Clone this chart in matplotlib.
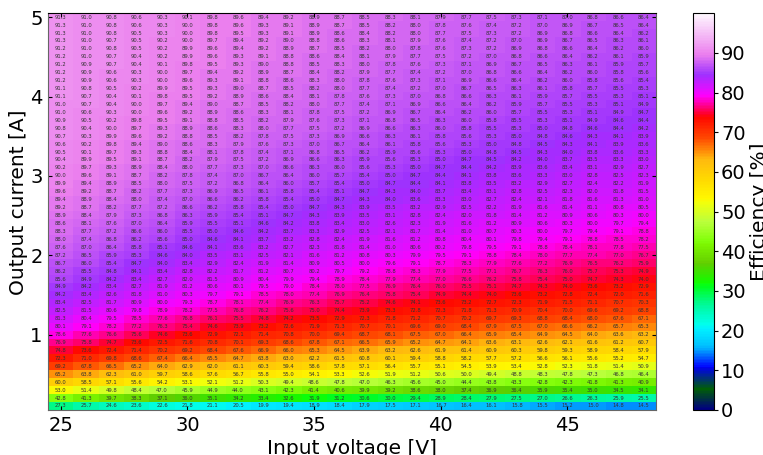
import numpy as np
import matplotlib
matplotlib.use('Agg')
import matplotlib.pyplot as plt

voltages = list(range(25, 49))
currents = [round(0.1 * i, 1) for i in range(50, 0, -1)]

# rows go from 5.0 A down to 0.1 A, columns 25 V to 48 V
efficiency = [
    [91.3, 91.0, 90.8, 90.6, 90.3, 90.1, 89.8, 89.6, 89.4, 89.2, 88.9, 88.7, 88.5, 88.3, 88.1, 87.9, 87.7, 87.5, 87.3, 87.1, 87.0, 86.8, 86.6, 86.4],
    [91.3, 91.0, 90.8, 90.6, 90.3, 90.0, 89.8, 89.6, 89.3, 89.1, 88.9, 88.7, 88.5, 88.2, 88.0, 87.8, 87.6, 87.4, 87.2, 87.0, 86.9, 86.7, 86.5, 86.4],
    [91.3, 91.0, 90.8, 90.5, 90.3, 90.0, 89.8, 89.5, 89.3, 89.1, 88.9, 88.6, 88.4, 88.2, 88.0, 87.7, 87.5, 87.3, 87.2, 86.9, 86.8, 86.6, 86.4, 86.2],
    [91.3, 91.0, 90.7, 90.5, 90.2, 90.0, 89.7, 89.4, 89.2, 89.0, 88.8, 88.6, 88.3, 88.1, 87.9, 87.6, 87.4, 87.2, 87.0, 86.9, 86.7, 86.5, 86.3, 86.1],
    [91.2, 91.0, 90.8, 90.5, 90.2, 89.9, 89.6, 89.4, 89.2, 88.9, 88.7, 88.5, 88.2, 88.0, 87.8, 87.6, 87.3, 87.2, 86.9, 86.8, 86.6, 86.4, 86.2, 86.0],
    [91.2, 91.0, 90.7, 90.4, 90.2, 89.9, 89.6, 89.3, 89.1, 88.8, 88.6, 88.4, 88.1, 87.9, 87.7, 87.5, 87.2, 87.0, 86.8, 86.6, 86.4, 86.2, 86.1, 85.9],
    [91.2, 90.9, 90.7, 90.4, 90.1, 89.8, 89.5, 89.3, 89.0, 88.8, 88.5, 88.3, 88.0, 87.8, 87.6, 87.3, 87.1, 86.9, 86.7, 86.5, 86.3, 86.1, 85.9, 85.7],
    [91.2, 90.9, 90.6, 90.3, 90.0, 89.7, 89.4, 89.2, 88.9, 88.7, 88.4, 88.2, 87.9, 87.7, 87.4, 87.2, 87.0, 86.8, 86.6, 86.4, 86.2, 86.0, 85.8, 85.6],
    [91.2, 90.9, 90.6, 90.3, 90.0, 89.6, 89.3, 89.1, 88.8, 88.6, 88.3, 88.0, 87.8, 87.6, 87.3, 87.1, 86.9, 86.6, 86.4, 86.2, 86.0, 85.8, 85.6, 85.4],
    [91.1, 90.8, 90.5, 90.2, 89.9, 89.5, 89.3, 89.0, 88.7, 88.5, 88.2, 88.0, 87.7, 87.4, 87.2, 87.0, 86.7, 86.5, 86.3, 86.1, 85.8, 85.7, 85.5, 85.3],
    [91.1, 90.7, 90.4, 90.1, 89.8, 89.5, 89.2, 88.9, 88.6, 88.4, 88.1, 87.8, 87.6, 87.3, 87.0, 86.8, 86.6, 86.3, 86.1, 85.9, 85.7, 85.5, 85.3, 85.1],
    [91.0, 90.7, 90.4, 90.0, 89.7, 89.4, 89.0, 88.7, 88.5, 88.2, 88.0, 87.7, 87.4, 87.1, 86.9, 86.6, 86.4, 86.2, 85.9, 85.7, 85.5, 85.3, 85.1, 84.9],
    [91.0, 90.6, 90.3, 90.0, 89.6, 89.2, 88.9, 88.6, 88.3, 88.1, 87.8, 87.5, 87.2, 86.9, 86.7, 86.4, 86.2, 86.0, 85.7, 85.5, 85.3, 85.1, 84.9, 84.7],
    [90.9, 90.5, 90.2, 89.8, 89.5, 89.1, 88.8, 88.5, 88.2, 87.9, 87.6, 87.3, 87.1, 86.8, 86.5, 86.3, 86.0, 85.8, 85.5, 85.3, 85.1, 84.9, 84.6, 84.4],
    [90.8, 90.4, 90.0, 89.7, 89.3, 88.9, 88.6, 88.3, 88.0, 87.7, 87.5, 87.2, 86.9, 86.6, 86.3, 86.0, 85.8, 85.5, 85.3, 85.0, 84.8, 84.6, 84.4, 84.2],
    [90.7, 90.3, 89.9, 89.6, 89.2, 88.8, 88.5, 88.2, 87.8, 87.5, 87.3, 86.9, 86.6, 86.3, 86.1, 85.8, 85.6, 85.3, 85.0, 84.8, 84.6, 84.3, 84.1, 83.9],
    [90.6, 90.2, 89.8, 89.4, 89.0, 88.6, 88.3, 87.9, 87.6, 87.3, 87.0, 86.7, 86.4, 86.1, 85.8, 85.6, 85.3, 85.0, 84.8, 84.5, 84.3, 84.1, 83.9, 83.6],
    [90.5, 90.1, 89.7, 89.3, 88.8, 88.4, 88.1, 87.8, 87.4, 87.1, 86.8, 86.5, 86.2, 85.9, 85.6, 85.3, 85.0, 84.8, 84.5, 84.3, 84.0, 83.8, 83.6, 83.3],
    [90.4, 89.9, 89.5, 89.1, 88.7, 88.2, 87.9, 87.5, 87.2, 86.9, 86.6, 86.3, 85.9, 85.6, 85.3, 85.0, 84.7, 84.5, 84.2, 84.0, 83.7, 83.5, 83.3, 83.0],
    [90.2, 89.7, 89.3, 88.9, 88.4, 88.0, 87.7, 87.3, 87.0, 86.6, 86.3, 86.0, 85.6, 85.3, 85.0, 84.7, 84.4, 84.2, 83.9, 83.6, 83.4, 83.1, 82.9, 82.7],
    [90.0, 89.6, 89.1, 88.7, 88.2, 87.8, 87.4, 87.0, 86.7, 86.4, 86.0, 85.7, 85.4, 85.0, 84.7, 84.4, 84.1, 83.8, 83.6, 83.3, 83.0, 82.8, 82.5, 82.3],
    [89.9, 89.4, 88.9, 88.5, 88.0, 87.5, 87.2, 86.8, 86.4, 86.0, 85.7, 85.4, 85.0, 84.7, 84.4, 84.1, 83.8, 83.5, 83.2, 82.9, 82.7, 82.4, 82.2, 81.9],
    [89.6, 89.2, 88.7, 88.2, 87.7, 87.3, 86.9, 86.5, 86.1, 85.8, 85.4, 85.1, 84.7, 84.3, 84.0, 83.7, 83.4, 83.1, 82.8, 82.5, 82.3, 82.0, 81.8, 81.5],
    [89.4, 88.9, 88.4, 88.0, 87.4, 87.0, 86.6, 86.2, 85.8, 85.4, 85.0, 84.7, 84.3, 84.0, 83.6, 83.3, 83.0, 82.7, 82.4, 82.1, 81.8, 81.6, 81.3, 81.0],
    [89.2, 88.7, 88.2, 87.7, 87.2, 86.6, 86.2, 85.8, 85.4, 85.0, 84.7, 84.3, 83.9, 83.5, 83.2, 82.9, 82.5, 82.2, 81.9, 81.6, 81.4, 81.1, 80.8, 80.5],
    [88.9, 88.4, 87.9, 87.3, 86.8, 86.3, 85.9, 85.4, 85.1, 84.7, 84.3, 83.9, 83.5, 83.1, 82.8, 82.4, 82.0, 81.8, 81.4, 81.2, 80.9, 80.6, 80.3, 80.0],
    [88.6, 88.1, 87.6, 87.0, 86.4, 85.9, 85.5, 85.1, 84.6, 84.2, 83.8, 83.4, 83.0, 82.6, 82.3, 81.9, 81.6, 81.2, 80.9, 80.6, 80.3, 80.0, 79.7, 79.4],
    [88.3, 87.7, 87.2, 86.6, 86.0, 85.5, 85.0, 84.6, 84.2, 83.7, 83.3, 82.9, 82.5, 82.1, 81.7, 81.4, 81.0, 80.7, 80.3, 80.0, 79.7, 79.4, 79.1, 78.8],
    [88.0, 87.4, 86.8, 86.2, 85.6, 85.0, 84.6, 84.1, 83.7, 83.2, 82.8, 82.4, 81.9, 81.6, 81.2, 80.8, 80.4, 80.1, 79.8, 79.4, 79.1, 78.8, 78.5, 78.2],
    [87.6, 87.0, 86.4, 85.8, 85.1, 84.6, 84.1, 83.6, 83.2, 82.7, 82.3, 81.8, 81.4, 81.0, 80.6, 80.2, 79.8, 79.5, 79.1, 78.8, 78.4, 78.1, 77.8, 77.5],
    [87.2, 86.5, 85.9, 85.3, 84.6, 84.0, 83.5, 83.1, 82.5, 82.1, 81.6, 81.2, 80.8, 80.3, 79.9, 79.5, 79.1, 78.8, 78.4, 78.0, 77.7, 77.4, 77.0, 76.7],
    [86.7, 86.0, 85.4, 84.7, 84.0, 83.4, 82.9, 82.4, 81.9, 81.4, 80.9, 80.5, 80.0, 79.6, 79.1, 78.7, 78.3, 77.9, 77.6, 77.2, 76.9, 76.5, 76.2, 75.9],
    [86.2, 85.5, 84.8, 84.1, 83.4, 82.8, 82.2, 81.7, 81.2, 80.7, 80.2, 79.7, 79.2, 78.8, 78.3, 77.9, 77.5, 77.1, 76.7, 76.3, 76.0, 75.7, 75.3, 74.9],
    [85.6, 84.9, 84.2, 83.4, 82.7, 82.0, 81.5, 80.9, 80.4, 79.9, 79.4, 78.9, 78.4, 77.9, 77.4, 77.0, 76.6, 76.2, 75.8, 75.4, 75.0, 74.7, 74.3, 74.0],
    [84.9, 84.2, 83.4, 82.7, 81.9, 81.2, 80.6, 80.1, 79.5, 79.0, 78.4, 78.0, 77.5, 76.9, 76.4, 76.0, 75.5, 75.1, 74.7, 74.3, 74.0, 73.6, 73.2, 72.9],
    [84.2, 83.4, 82.6, 81.8, 81.0, 80.3, 79.7, 79.1, 78.5, 78.0, 77.4, 76.9, 76.4, 75.8, 75.4, 74.9, 74.4, 74.0, 73.6, 73.2, 72.8, 72.4, 72.0, 71.6],
    [83.4, 82.5, 81.7, 80.9, 80.0, 79.3, 78.7, 78.1, 77.4, 76.9, 76.3, 75.7, 75.2, 74.6, 74.1, 73.6, 73.2, 72.7, 72.3, 71.9, 71.5, 71.1, 70.7, 70.3],
    [82.5, 81.5, 80.6, 79.8, 78.9, 78.2, 77.5, 76.8, 76.2, 75.6, 75.0, 74.4, 73.9, 73.3, 72.8, 72.3, 71.8, 71.3, 70.9, 70.4, 70.0, 69.6, 69.2, 68.8],
    [81.3, 80.4, 79.5, 78.5, 77.6, 76.8, 76.1, 75.5, 74.8, 74.2, 73.5, 72.9, 72.3, 71.8, 71.2, 70.7, 70.2, 69.7, 69.3, 68.8, 68.4, 68.0, 67.6, 67.1],
    [80.1, 79.1, 78.2, 77.2, 76.3, 75.4, 74.6, 73.9, 73.2, 72.6, 71.9, 71.3, 70.7, 70.1, 69.6, 69.0, 68.4, 67.9, 67.5, 67.0, 66.6, 66.2, 65.7, 65.3],
    [78.6, 77.6, 76.6, 75.6, 74.6, 73.6, 72.9, 72.1, 71.4, 70.8, 70.0, 69.4, 68.7, 68.1, 67.5, 67.0, 66.4, 65.9, 65.4, 64.9, 64.5, 64.0, 63.6, 63.2],
    [76.9, 75.8, 74.7, 73.6, 72.5, 71.6, 70.8, 70.1, 69.3, 68.6, 67.8, 67.1, 66.5, 65.9, 65.2, 64.7, 64.1, 63.6, 63.1, 62.6, 62.1, 61.6, 61.2, 60.7],
    [74.8, 73.6, 72.4, 71.4, 70.2, 69.2, 68.4, 67.6, 66.9, 66.0, 65.3, 64.5, 63.9, 63.2, 62.6, 61.9, 61.4, 60.9, 60.3, 59.8, 59.3, 58.9, 58.4, 57.9],
    [72.3, 71.0, 69.8, 68.6, 67.4, 66.4, 65.5, 64.7, 63.8, 63.0, 62.2, 61.5, 60.8, 60.1, 59.4, 58.8, 58.2, 57.7, 57.2, 56.6, 56.1, 55.6, 55.2, 54.7],
    [69.2, 67.8, 66.5, 65.2, 64.0, 62.9, 62.0, 61.1, 60.3, 59.4, 58.6, 57.8, 57.1, 56.4, 55.7, 55.1, 54.5, 53.9, 53.4, 52.8, 52.3, 51.8, 51.4, 50.9],
    [65.2, 63.8, 62.3, 61.0, 59.7, 58.6, 57.6, 56.7, 55.8, 55.0, 54.1, 53.3, 52.6, 51.9, 51.2, 50.6, 50.0, 49.4, 48.8, 48.3, 47.8, 47.3, 46.8, 46.4],
    [60.0, 58.5, 57.1, 55.6, 54.2, 53.1, 52.1, 51.2, 50.3, 49.4, 48.6, 47.8, 47.0, 46.3, 45.6, 45.0, 44.4, 43.8, 43.3, 42.8, 42.3, 41.8, 41.3, 40.9],
    [53.0, 51.4, 49.8, 48.4, 47.0, 45.9, 44.9, 44.0, 43.1, 42.3, 41.4, 40.6, 39.9, 39.2, 38.6, 38.0, 37.4, 36.9, 36.4, 35.9, 35.4, 35.0, 34.5, 34.1],
    [42.8, 41.3, 39.7, 38.3, 37.1, 36.0, 35.1, 34.2, 33.4, 32.6, 31.9, 31.2, 30.6, 30.0, 29.4, 28.9, 28.4, 27.9, 27.5, 27.0, 26.6, 26.3, 25.9, 25.5],
    [27.3, 25.7, 24.6, 23.6, 22.6, 21.8, 21.1, 20.5, 19.9, 19.4, 18.9, 18.4, 17.9, 17.5, 17.1, 16.7, 16.4, 16.1, 15.8, 15.5, 15.2, 15.0, 14.8, 14.5],
]

data = np.array(efficiency)
v = np.array(voltages)
i = np.array(currents)

fig, ax = plt.subplots(figsize=(7.63, 4.55), dpi=100)
fig.subplots_adjust(left=0.063, right=0.860, top=0.971, bottom=0.099)
im = ax.imshow(data, cmap='gist_ncar', vmin=0, vmax=100, aspect='auto',
               extent=[v[0] - 0.5, v[-1] + 0.5, i[-1] - 0.05, i[0] + 0.05])

for r, cur in enumerate(i):
    for c, volt in enumerate(v):
        ax.text(volt, cur, f'{data[r, c]:.1f}', ha='center', va='center', fontsize=3.8, color='#333333')

ax.set_xticks([25, 30, 35, 40, 45])
ax.set_yticks([1, 2, 3, 4, 5])
ax.tick_params(labelsize=14, direction='in', length=3, pad=4)
ax.tick_params(top=True, right=True)
for s in ax.spines.values():
    s.set_color('#666666')
ax.spines['top'].set_color('black')
ax.set_xlabel('Input voltage [V]', fontsize=14.5, labelpad=3)
ax.set_ylabel('Output current [A]', fontsize=14.5)
ax.yaxis.set_label_coords(-0.033, 0.524)

cax = fig.add_axes([0.908, 0.099, 0.028, 0.872])
cb = fig.colorbar(im, cax=cax)
cb.set_ticks(list(range(0, 100, 10)))
cb.ax.tick_params(labelsize=14, length=3, pad=2)
cb.set_label('Efficiency [%]', fontsize=14.5, labelpad=3)

fig.savefig('out.png', dpi=100)
